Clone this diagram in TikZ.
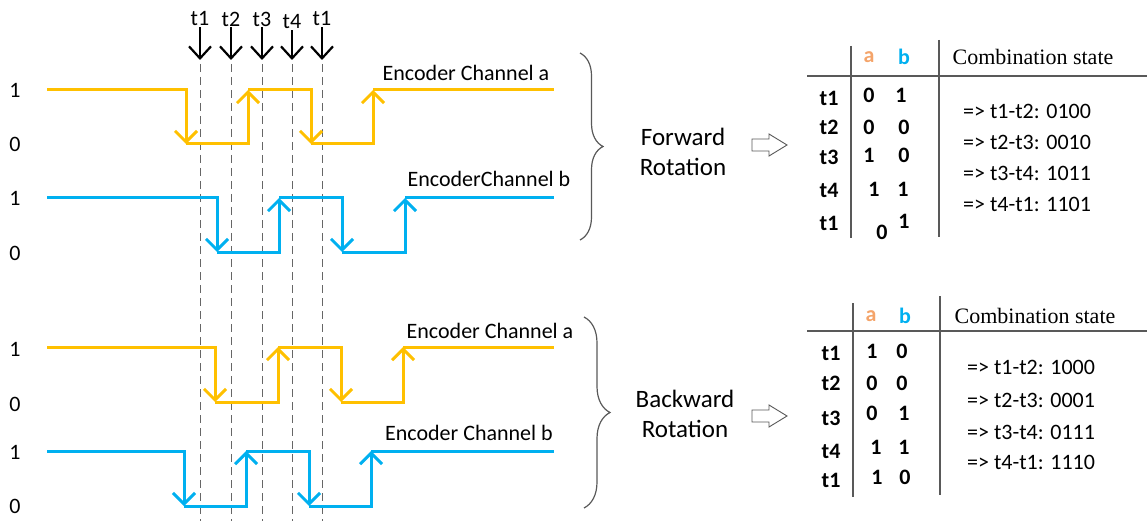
\documentclass[tikz,border=0pt]{standalone}
\usepackage{fontspec}
\setmainfont{Carlito}
\newfontfamily\headserif{Liberation Serif}
\usepackage{tikz}
\usetikzlibrary{arrows.meta,decorations.pathreplacing}
\definecolor{chgold}{HTML}{FFC000}
\definecolor{chblue}{HTML}{00B0F0}
\definecolor{hdorange}{HTML}{F4A46A}

\begin{document}
\begin{tikzpicture}[x=1pt,y=-1pt,font=\fontsize{22}{26}\selectfont,
  chA/.style={chgold,line width=3pt,-{Straight Barb[length=11pt,width=22pt]}},
  chB/.style={chblue,line width=3pt,-{Straight Barb[length=11pt,width=22pt]}},
  probe/.style={line width=2.2pt,-{Straight Barb[length=12pt,width=22pt]}},
  tline/.style={gray!80!black,line width=0.9pt,dash pattern=on 8pt off 5pt},
  lvl/.style={inner sep=1pt},
  chlabel/.style={font=\fontsize{22}{26}\selectfont,inner sep=1pt},
  rotlabel/.style={align=center,font=\fontsize{25}{30}\selectfont},
  tcell/.style={font=\bfseries\fontsize{22}{26}\selectfont,inner sep=1pt},
  combo/.style={anchor=west,font=\fontsize{22}{26}\selectfont,inner sep=0pt},
  trule/.style={gray!70!black,line width=1.2pt},
  hollow/.style={draw=gray!70!black,fill=white,line width=0.9pt,line join=miter},
  bracket/.style={decorate,decoration={brace,amplitude=#1},gray!70!black,line width=1.2pt}]
  \useasboundingbox (0,0) rectangle (1147,521);
  % ---------------- time marks and cut lines
  \node[lvl] (tA) at (200,19) {t1};
  \node[lvl] (tB) at (231,19) {t2};
  \node[lvl] (tC) at (262,19) {t3};
  \node[lvl] (tD) at (292,22) {t4};
  \node[lvl] (tE) at (322,19) {t1};
  \coordinate (pA) at (200,60);
  \coordinate (pB) at (231,60);
  \coordinate (pC) at (262,60);
  \coordinate (pD) at (292,60);
  \coordinate (pE) at (322,60);
  \draw[probe] (tA) -- (pA);
  \draw[probe] (tB) -- (pB);
  \draw[probe] (tC) -- (pC);
  \draw[probe] (tD) -- (pD);
  \draw[probe] (tE) -- (pE);
  \draw[tline] (200,64) -- (200,521);
  \draw[tline] (231,64) -- (231,521);
  \draw[tline] (262,64) -- (262,521);
  \draw[tline] (292,64) -- (292,521);
  \draw[tline] (322,64) -- (322,521);
  % ---------------- forward rotation: channel a leads
  \node (fa1) at (15,90) {1};
  \node (fa0) at (15,144) {0};
  \node (fb1) at (15,198) {1};
  \node (fb0) at (15,253) {0};
  \draw[chA] (47,90) -| (186,144);
  \draw[chA] (186,144) -| (248,90);
  \draw[chA] (248,90) -| (311,144);
  \draw[chA] (311,144) -| (373,90);
  \draw[chgold,line width=3pt] (373,90) -- (554,90);
  \draw[chB] (47,198) -| (217,252);
  \draw[chB] (217,252) -| (279,198);
  \draw[chB] (279,198) -| (342,252);
  \draw[chB] (342,252) -| (405,198);
  \draw[chblue,line width=3pt] (405,198) -- (554,198);
  \node[chlabel] (fwdA) at (466,73) {Encoder Channel a};
  \node[chlabel] (fwdB) at (489,179) {EncoderChannel b};
  \draw[bracket=23pt] (580,53) -- (580,240);
  \node[rotlabel] (fwdrot) at (683,152) {Forward\\Rotation};
  \draw[hollow] (752,139) -- (769,139) -- (769,134) -- (787,145) -- (769,156)
    -- (769,151) -- (752,151) -- cycle;
  % forward table
  \draw[trule] (807,76) -- (1147,76);
  \draw[trule] (851,46) -- (851,238);
  \draw[trule] (939,40) -- (939,237);
  \node[tcell,text=hdorange] (fha) at (869,57) {a};
  \node[tcell,text=chblue] (fhb) at (904,57) {b};
  \node[font=\headserif\fontsize{22}{26}\selectfont] (fhc) at (1033,57) {Combination state};
  \node[tcell] (fr1) at (829,98) {t1};
  \node[tcell] (fr2) at (829,127) {t2};
  \node[tcell] (fr3) at (829,157) {t3};
  \node[tcell] (fr4) at (829,190) {t4};
  \node[tcell] (fr5) at (829,223) {t1};
  \node[tcell] (fa-1) at (869,95) {0};
  \node[tcell] (fb-1) at (901,95) {1};
  \node[tcell] (fa-2) at (869,127) {0};
  \node[tcell] (fb-2) at (904,127) {0};
  \node[tcell] (fa-3) at (869,155) {1};
  \node[tcell] (fb-3) at (904,155) {0};
  \node[tcell] (fa-4) at (874,189) {1};
  \node[tcell] (fb-4) at (903,189) {1};
  \node[tcell] (fa-5) at (882,232) {0};
  \node[tcell] (fb-5) at (904,221) {1};
  \node[combo] (fs1) at (963,111) {=> t1-t2: 0100};
  \node[combo] (fs2) at (963,142) {=> t2-t3: 0010};
  \node[combo] (fs3) at (963,173) {=> t3-t4: 1011};
  \node[combo] (fs4) at (963,204) {=> t4-t1: 1101};
  % ---------------- backward rotation: channel b leads
  \node (ba1) at (15,349) {1};
  \node (ba0) at (15,404) {0};
  \node (bb1) at (15,452) {1};
  \node (bb0) at (15,506) {0};
  \draw[chA] (47,347) -| (215,402);
  \draw[chA] (215,402) -| (278,347);
  \draw[chA] (278,347) -| (341,402);
  \draw[chA] (341,402) -| (403,347);
  \draw[chgold,line width=3pt] (403,347) -- (554,347);
  \draw[chB] (47,451) -| (184,506);
  \draw[chB] (184,506) -| (246,451);
  \draw[chB] (246,451) -| (309,506);
  \draw[chB] (309,506) -| (371,451);
  \draw[chblue,line width=3pt] (371,451) -- (554,451);
  \node[chlabel] (bwdA) at (490,331) {Encoder Channel a};
  \node[chlabel] (bwdB) at (469,433) {Encoder Channel b};
  \draw[bracket=26pt] (584,317) -- (584,508);
  \node[rotlabel] (bwdrot) at (685,414) {Backward\\Rotation};
  \draw[hollow] (752,410) -- (769,410) -- (769,405) -- (787,416) -- (769,427)
    -- (769,422) -- (752,422) -- cycle;
  % backward table
  \draw[trule] (807,331) -- (1147,331);
  \draw[trule] (853,303) -- (853,497);
  \draw[trule] (940,296) -- (940,495);
  \node[tcell,text=hdorange] (bha) at (871,316) {a};
  \node[tcell,text=chblue] (bhb) at (905,316) {b};
  \node[font=\headserif\fontsize{22}{26}\selectfont] (bhc) at (1035,316) {Combination state};
  \node[tcell] (br1) at (831,353) {t1};
  \node[tcell] (br2) at (831,383) {t2};
  \node[tcell] (br3) at (831,418) {t3};
  \node[tcell] (br4) at (831,451) {t4};
  \node[tcell] (br5) at (831,480) {t1};
  \node[tcell] (ba-1) at (872,351) {1};
  \node[tcell] (bb-1) at (902,351) {0};
  \node[tcell] (ba-2) at (872,383) {0};
  \node[tcell] (bb-2) at (902,383) {0};
  \node[tcell] (ba-3) at (872,413) {0};
  \node[tcell] (bb-3) at (904,413) {1};
  \node[tcell] (ba-4) at (876,447) {1};
  \node[tcell] (bb-4) at (904,447) {1};
  \node[tcell] (ba-5) at (877,477) {1};
  \node[tcell] (bb-5) at (905,477) {0};
  \node[combo] (bs1) at (967,367) {=> t1-t2: 1000};
  \node[combo] (bs2) at (967,400) {=> t2-t3: 0001};
  \node[combo] (bs3) at (967,432) {=> t3-t4: 0111};
  \node[combo] (bs4) at (967,462) {=> t4-t1: 1110};
\end{tikzpicture}
\end{document}
